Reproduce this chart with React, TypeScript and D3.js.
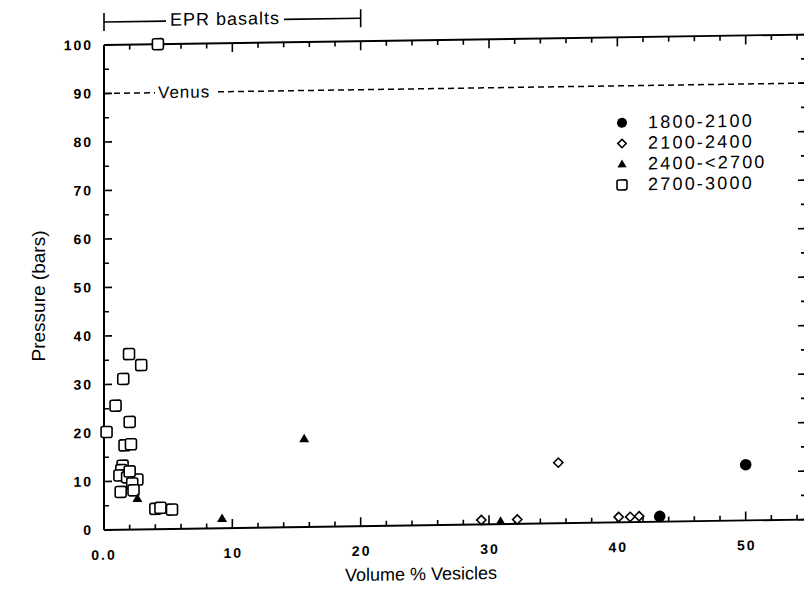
import React from "react";
import * as d3 from "d3";

// Volume % vesicles vs pressure (bars), grouped by depth range
const circles1800: [number, number][] = [
  [43.3, 1.1],
  [50.0, 11.5],
];
const diamonds2100: [number, number][] = [
  [29.4, 0.9],
  [32.2, 0.9],
  [35.4, 12.5],
  [40.1, 1.1],
  [41.0, 1.1],
  [41.7, 1.2],
];
const triangles2400: [number, number][] = [
  [2.6, 6.4],
  [9.2, 2.0],
  [15.6, 18.2],
  [30.9, 0.6],
];
const squares2700: [number, number][] = [
  [4.2, 100],
  [1.95, 36.2],
  [2.9, 33.9],
  [1.5, 31.1],
  [0.9, 25.6],
  [0.2, 20.2],
  [2.0, 22.2],
  [1.6, 17.4],
  [2.1, 17.6],
  [1.45, 13.2],
  [1.35, 12.3],
  [1.2, 11.2],
  [2.6, 10.3],
  [1.8, 10.8],
  [2.0, 12.0],
  [2.2, 9.5],
  [2.3, 8.1],
  [1.3, 7.8],
  [4.0, 4.2],
  [4.4, 4.4],
  [5.3, 4.0],
];

const xLabels = ["0.0", "10", "20", "30", "40", "50"];
const xLabelValues = [0, 10, 20, 30, 40, 50];
const yTickValues = [0, 10, 20, 30, 40, 50, 60, 70, 80, 90, 100];
const legendLabels = ["1800-2100", "2100-2400", "2400-<2700", "2700-3000"];

const W = 804;
const H = 595;
const FONT = "'Liberation Sans', Arial, Helvetica, sans-serif";
const SKEW = -0.85; // the scanned figure is slightly sheared

const x = d3.scaleLinear().domain([0, 54.7]).range([104, 806]);
const y = d3.scaleLinear().domain([0, 100]).range([530, 45]);

const XMAX = 54.7;

function Square({ cx, cy, s = 11 }: { cx: number; cy: number; s?: number }) {
  return (
    <rect
      x={cx - s / 2}
      y={cy - s / 2}
      width={s}
      height={s}
      rx={2}
      fill="#fff"
      stroke="#000"
      strokeWidth={1.6}
    />
  );
}

function Diamond({ cx, cy, r = 4.6 }: { cx: number; cy: number; r?: number }) {
  return (
    <path
      d={`M${cx},${cy - r}L${cx + r},${cy}L${cx},${cy + r}L${cx - r},${cy}Z`}
      fill="#fff"
      stroke="#000"
      strokeWidth={1.6}
    />
  );
}

function Triangle({ cx, cy, r = 5 }: { cx: number; cy: number; r?: number }) {
  return (
    <path
      d={`M${cx},${cy - r}L${cx + r},${cy + r * 0.7}L${cx - r},${cy + r * 0.7}Z`}
      fill="#000"
    />
  );
}

export default function App() {
  const minorX = d3.range(0, XMAX, 2);
  const yTicks5 = d3.range(0, 101, 5);

  return (
    <div style={{ position: "absolute", left: 0, top: 0 }}>
      <svg width={W} height={H} style={{ display: "block", background: "#fff" }}>
        <text
          transform={`translate(40,${296}) rotate(-90)`}
          textAnchor="middle"
          dominantBaseline="middle"
          fontFamily={FONT}
          fontSize={19}
        >
          Pressure (bars)
        </text>

        <g transform={`translate(104,0) skewY(${SKEW}) translate(-104,0)`}>
          {/* frame */}
          <line x1={x(0)} x2={x(0)} y1={y(0)} y2={y(100)} stroke="#000" strokeWidth={2} />
          <line x1={x(0)} x2={x(XMAX)} y1={y(0)} y2={y(0)} stroke="#000" strokeWidth={1.8} />
          <line x1={x(0)} x2={x(XMAX)} y1={y(100)} y2={y(100)} stroke="#000" strokeWidth={1.8} />
          <line x1={x(XMAX)} x2={x(XMAX)} y1={y(0)} y2={y(100)} stroke="#000" strokeWidth={1.8} />

          {/* x ticks top and bottom */}
          {minorX.map((v) => {
            const len = v % 10 === 0 ? 9 : 5;
            return (
              <g key={`xt${v}`} stroke="#000" strokeWidth={1.6}>
                <line x1={x(v)} x2={x(v)} y1={y(0)} y2={y(0) - len} />
                <line x1={x(v)} x2={x(v)} y1={y(100)} y2={y(100) + len} />
              </g>
            );
          })}

          {/* y ticks left and right */}
          {yTicks5.map((v) => {
            const len = v % 10 === 0 ? 8 : 5;
            return (
              <g key={`yt${v}`} stroke="#000" strokeWidth={1.6}>
                <line x1={x(0)} x2={x(0) + len} y1={y(v)} y2={y(v)} />
                <line x1={x(XMAX)} x2={x(XMAX) - len} y1={y(v)} y2={y(v)} />
              </g>
            );
          })}

          {/* tick labels */}
          {xLabelValues.map((v, i) => (
            <text
              key={`xl${v}`}
              x={x(v) + (i === 0 ? 0 : 1)}
              y={556}
              textAnchor="middle"
              dominantBaseline="middle"
              fontFamily={FONT}
              fontSize={14}
              fontWeight="bold"
              letterSpacing={2}
            >
              {xLabels[i]}
            </text>
          ))}
          {yTickValues.map((v) => (
            <text
              key={`yl${v}`}
              x={93}
              y={y(v) + 1}
              textAnchor="end"
              dominantBaseline="middle"
              fontFamily={FONT}
              fontSize={14}
              fontWeight="bold"
              letterSpacing={2}
            >
              {v}
            </text>
          ))}

          {/* EPR basalts bracket */}
          <g stroke="#000" strokeWidth={1.6}>
            <line x1={x(0)} x2={x(0)} y1={13} y2={31} />
            <line x1={x(20)} x2={x(20)} y1={13} y2={31} />
            <line x1={x(0)} x2={166} y1={22} y2={22} />
            <line x1={284} x2={x(20)} y1={22} y2={22} />
          </g>
          <text
            x={225}
            y={22}
            textAnchor="middle"
            dominantBaseline="middle"
            fontFamily={FONT}
            fontSize={18}
            letterSpacing={1}
          >
            EPR basalts
          </text>

          {/* Venus line */}
          <line
            x1={x(0)}
            x2={155}
            y1={y(90)}
            y2={y(90)}
            stroke="#000"
            strokeWidth={1.5}
            strokeDasharray="6,4"
          />
          <text
            x={158}
            y={y(90) + 1}
            dominantBaseline="middle"
            fontFamily={FONT}
            fontSize={17}
            letterSpacing={1}
          >
            Venus
          </text>
          <line
            x1={218}
            x2={x(XMAX)}
            y1={y(90)}
            y2={y(90)}
            stroke="#000"
            strokeWidth={1.5}
            strokeDasharray="6,4"
          />

          {/* data */}
          {squares2700.map(([a, b], i) => (
            <Square key={`s${i}`} cx={x(a)} cy={y(b)} />
          ))}
          {triangles2400.map(([a, b], i) => (
            <Triangle key={`t${i}`} cx={x(a)} cy={y(b)} />
          ))}
          {diamonds2100.map(([a, b], i) => (
            <Diamond key={`d${i}`} cx={x(a)} cy={y(b)} />
          ))}
          {circles1800.map(([a, b], i) => (
            <circle key={`c${i}`} cx={x(a)} cy={y(b)} r={5.8} fill="#000" />
          ))}

          {/* legend */}
          {legendLabels.map((lab, i) => {
            const ly = 130.5 + i * 20.7;
            const lx = 622;
            return (
              <g key={lab}>
                {i === 0 && <circle cx={lx} cy={ly} r={5} fill="#000" />}
                {i === 1 && <Diamond cx={lx} cy={ly} r={4.2} />}
                {i === 2 && <Triangle cx={lx} cy={ly} r={4.6} />}
                {i === 3 && <Square cx={lx} cy={ly} s={10} />}
                <text
                  x={648}
                  y={ly + 1}
                  dominantBaseline="middle"
                  fontFamily={FONT}
                  fontSize={18}
                  letterSpacing={2.2}
                >
                  {lab}
                </text>
              </g>
            );
          })}

          <text
            x={421}
            y={580}
            textAnchor="middle"
            dominantBaseline="middle"
            fontFamily={FONT}
            fontSize={18}
          >
            Volume % Vesicles
          </text>
        </g>
      </svg>
    </div>
  );
}
